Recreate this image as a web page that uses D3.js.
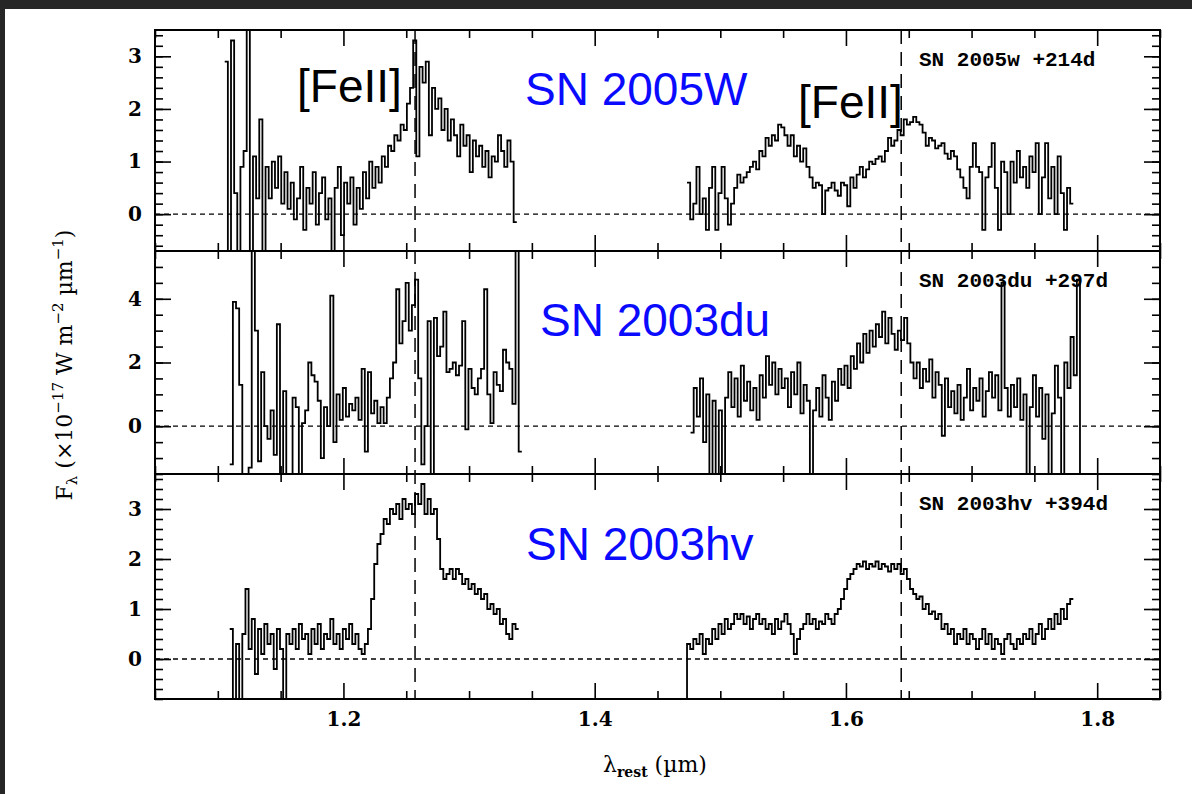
<!DOCTYPE html>
<meta charset="utf-8">
<script src="https://d3js.org/d3.v7.min.js"></script>
<style>
	body { margin: 0; background: #262626; }
	svg { display: block; }
	.tick text { font-family: "DejaVu Serif", serif; font-weight: bold; font-size: 20px; fill: #000; }
	.tick line { stroke: #000; stroke-width: 1.6px; }
	.tag { font-family: "Liberation Mono", monospace; font-weight: bold; font-size: 21px; }
	.big { font-family: "Liberation Sans", Arial, sans-serif; font-size: 46px; }
</style>
<svg width="1192" height="794"></svg>
<script>
	// bin width of the spectra (micron)
	var binWidth = 0.0025

	// SN 2005W +214d
	var sn05wStartA = 1.1055
	var sn05wA = [2.9, -1.0, 3.3, 0.4, -0.9, 0.9, 1.2, 3.6, -0.9, 1.1, 0.3, 1.8, -0.8, 0.9, 0.3, 1.0, 0.5, 1.1, 0.2, 0.8,
		0.1, 0.6, -0.1, 0.3, 0.9, -0.3, 0.5, 0.2, 0.8, -0.2, 0.4, 0.7, -0.1, 0.3, -0.8, 0.5, 0.9, -0.4, 0.6, 0.2,
		0.7, -0.2, 0.5, 0.1, 0.8, 0.3, 1.0, 0.5, 0.9, 0.6, 1.1, 0.9, 1.3, 1.2, 1.5, 1.4, 1.7, 1.6, 2.1, 2.4,
		3.3, 1.1, 2.8, 2.5, 2.9, 1.5, 2.4, 2.0, 2.2, 1.6, 2.0, 1.4, 1.8, 1.5, 1.1, 1.7, 1.3, 1.5, 0.8, 1.4,
		1.1, 1.3, 0.9, 1.2, 0.7, 1.1, 1.0, 1.5, 1.2, 0.9, 1.4, 1.0, -0.15]
	var sn05wStartB = 1.4735
	var sn05wB = [0.6, -0.1, 0.2, 0.9, 0.0, 0.3, -0.3, 0.5, 0.9, -0.3, 0.4, 0.9, 0.3, -0.2, 0.2, 0.5, 0.75, 0.6, 0.7, 0.8,
		0.9, 1.0, 0.85, 1.2, 1.1, 1.45, 1.3, 1.5, 1.4, 1.7, 1.65, 1.5, 1.3, 1.5, 1.1, 1.3, 1.0, 1.25, 0.9, 0.7,
		0.5, 0.6, 0.55, 0.0, 0.45, 0.5, 0.6, 0.45, 0.35, 0.6, 0.55, 0.15, 0.7, 0.5, 0.75, 0.9, 0.7, 0.85, 1.0, 0.95,
		1.05, 1.1, 1.0, 1.2, 1.45, 1.3, 1.4, 1.6, 1.5, 1.8, 1.7, 1.75, 1.85, 1.75, 1.7, 1.55, 1.3, 1.45, 1.4, 1.25,
		1.3, 1.35, 1.15, 1.05, 1.2, 1.1, 0.85, 0.7, 0.5, 0.3, 0.9, 1.35, 0.9, 0.8, -0.3, 0.7, 0.9, 1.35, 0.5, -0.3,
		1.0, 0.8, 0.0, 1.0, 0.6, 1.2, 0.7, 0.9, 0.5, 1.1, 0.8, 1.35, 0.0, 0.7, 1.35, 0.3, 0.9, 0.0, 1.1, 0.4,
		-0.3, 0.5, 0.2]

	// SN 2003du +297d
	var sn03duStartA = 1.1095
	var sn03duA = [-1.2, 3.9, 3.7, 1.3, -1.6, -1.6, -1.3, 5.6, 3.0, -1.1, 1.7, 0.0, -0.4, 0.5, -0.9, 3.2, -1.6, 1.1, -1.6, -1.6,
		0.9, 0.6, -1.6, 0.1, 0.5, 2.0, 1.6, 1.4, 0.8, -1.0, 0.6, 0.0, 4.1, -0.5, 1.0, 0.2, 1.2, 0.3, 0.7, 0.5,
		0.9, 0.2, 1.8, -0.8, 1.7, 0.4, 0.8, 0.1, 0.6, 0.1, 0.9, 1.5, 2.0, 4.3, 2.6, 3.3, 4.5, 3.0, 3.8, 4.6,
		1.5, -1.2, 0.0, 3.3, -1.6, 3.4, 2.2, 2.5, 3.6, 1.7, 1.8, 2.0, 1.6, 1.9, 3.3, -0.1, 1.8, 1.2, 1.0, 1.5,
		1.8, 4.3, 1.0, 0.1, 1.7, 1.3, 1.1, 2.4, 2.0, 1.8, 0.7, 5.6, -0.8]
	var sn03duStartB = 1.4763
	var sn03duB = [-0.2, 1.2, 0.3, 1.5, -0.5, 1.0, -1.6, 0.8, -1.6, 0.5, -1.6, 0.9, 1.7, 0.6, 1.5, 0.3, 1.9, 0.8, 1.4, 0.5,
		1.2, 0.2, 1.6, 0.9, 2.2, 1.3, 2.0, 1.0, 1.8, 1.2, 1.5, 0.6, 1.7, 1.0, 2.0, 0.4, 1.3, 0.8, -1.6, 0.5,
		1.2, 0.3, 1.6, 0.9, 0.2, 1.4, 0.8, 1.8, 1.3, 1.9, 1.2, 2.2, 1.8, 2.6, 2.0, 2.9, 2.3, 3.0, 2.5, 3.2,
		2.8, 3.6, 2.6, 3.4, 2.9, 2.4, 3.0, 2.7, 3.4, 2.6, 2.0, 1.5, 2.0, 1.2, 1.8, 1.4, 2.1, 0.9, 1.7, 1.3,
		-0.3, 1.5, 0.6, 1.1, 0.4, 1.3, 0.2, 0.9, 1.8, 0.5, 1.2, 0.8, 1.5, 0.3, 1.1, 1.7, 0.9, 1.6, 0.5, 4.5,
		1.2, 0.3, 1.3, 0.6, 1.5, 0.2, 1.0, -1.6, 0.6, 1.6, 0.3, 1.2, -0.4, 1.0, -1.6, 0.4, 1.9, 0.9, -1.6, 2.0,
		1.2, 2.8, 1.6, 4.6, -1.6]

	// SN 2003hv +394d
	var sn03hvStartA = 1.1095
	var sn03hvA = [0.6, -0.9, 0.3, -0.9, 0.5, 1.4, 0.2, 0.8, -0.3, 0.6, 0.1, 0.7, 0.3, 0.5, -0.2, 0.6, 0.2, -0.8, 0.5, 0.3,
		0.6, 0.2, 0.7, 0.4, 0.5, 0.1, 0.6, 0.3, 0.7, 0.2, 0.5, 0.4, 0.8, 0.3, 0.5, 0.2, 0.6, 0.4, 0.7, 0.3,
		0.5, 0.2, 0.1, 0.3, 0.6, 1.2, 1.9, 2.3, 2.5, 2.8, 2.7, 3.0, 2.9, 3.1, 2.8, 3.2, 3.0, 3.1, 2.9, 3.3,
		3.1, 3.5, 2.9, 3.2, 2.9, 3.0, 2.4, 1.8, 1.6, 1.7, 1.8, 1.6, 1.8, 1.7, 1.5, 1.6, 1.4, 1.5, 1.3, 1.4,
		1.2, 1.3, 1.0, 1.1, 0.9, 1.0, 0.7, 0.8, 0.5, 0.4, 0.7, 0.6]
	var sn03hvStartB = 1.4710
	var sn03hvB = [-0.9, 0.3, 0.2, 0.4, 0.3, 0.5, 0.1, 0.4, 0.3, 0.6, 0.4, 0.7, 0.5, 0.8, 0.6, 0.7, 0.9, 0.8, 0.9, 0.7, 0.85,
		0.6, 0.8, 0.9, 0.7, 0.8, 0.6, 0.7, 0.5, 0.8, 0.6, 0.75, 0.9, 0.7, 0.5, 0.1, 0.4, 0.6, 0.7, 0.9, 0.7,
		0.8, 0.6, 0.75, 0.7, 0.9, 0.8, 0.7, 0.9, 1.0, 1.2, 1.4, 1.6, 1.7, 1.8, 1.9, 1.85, 1.95, 1.8, 1.9, 1.85,
		1.95, 1.8, 1.9, 1.85, 1.75, 1.9, 1.8, 1.9, 1.7, 1.8, 1.6, 1.4, 1.3, 1.2, 1.25, 1.0, 1.1, 0.9, 0.95, 0.8,
		0.9, 0.6, 0.7, 0.5, 0.6, 0.3, 0.5, 0.4, 0.6, 0.3, 0.5, 0.4, 0.2, 0.4, 0.6, 0.3, 0.5, 0.2, 0.4, 0.3,
		0.1, 0.4, 0.5, 0.3, 0.2, 0.4, 0.3, 0.5, 0.4, 0.6, 0.3, 0.5, 0.7, 0.4, 0.6, 0.8, 0.6, 0.9, 0.7, 1.0,
		0.8, 1.1, 1.2]

	// [FeII] rest wavelengths
	var feLines = [1.257, 1.644]
	var xMajorTicks = [1.2, 1.4, 1.6, 1.8]
	var xTickLabels = ['1.2', '1.4', '1.6', '1.8']

	var panels = [{
		top: 30, bottom: 251, domain: [-0.7, 3.5], major: [0, 1, 2, 3], minorStep: 0.2,
		tag: 'SN 2005w +214d', name: 'SN 2005W', nameX: 525, nameY: 105,
		spectra: [[sn05wStartA, sn05wA], [sn05wStartB, sn05wB]]
	}, {
		top: 251, bottom: 474, domain: [-1.5, 5.5], major: [0, 2, 4], minorStep: 0.5,
		tag: 'SN 2003du +297d', name: 'SN 2003du', nameX: 540, nameY: 336,
		spectra: [[sn03duStartA, sn03duA], [sn03duStartB, sn03duB]]
	}, {
		top: 474, bottom: 699, domain: [-0.8, 3.7], major: [0, 1, 2, 3], minorStep: 0.2,
		tag: 'SN 2003hv +394d', name: 'SN 2003hv', nameX: 526, nameY: 560,
		spectra: [[sn03hvStartA, sn03hvA], [sn03hvStartB, sn03hvB]]
	}]

	var svg = d3.select('svg')
	svg.append('rect').attr('x', 5).attr('y', 9).attr('width', 1187).attr('height', 785).attr('fill', '#fff')

	var left = 155, right = 1160
	var x = d3.scaleLinear().domain([1.05, 1.85]).range([left, right])
	var xMinor = d3.range(1.05, 1.851, 0.05).filter(function (v) {
		return xMajorTicks.every(function (m) { return Math.abs(m - v) > 1e-6 })
	})

	var defs = svg.append('defs')

	panels.forEach(function (p, k) {
		var y = d3.scaleLinear().domain(p.domain).range([p.bottom, p.top])
		var g = svg.append('g')

		defs.append('clipPath').attr('id', 'clip' + k)
			.append('rect').attr('x', left).attr('y', p.top)
			.attr('width', right - left).attr('height', p.bottom - p.top)

		// zero level
		g.append('line')
			.attr('x1', left).attr('x2', right)
			.attr('y1', y(0)).attr('y2', y(0))
			.attr('stroke', '#000').attr('stroke-width', 1.3)
			.attr('stroke-dasharray', '5,4')

		// spectra as histograms
		var line = d3.line()
			.x(function (d) { return x(d[0]) })
			.y(function (d) { return y(d[1]) })
			.curve(d3.curveStepAfter)
		p.spectra.forEach(function (s) {
			var pts = s[1].map(function (v, i) { return [s[0] + i * binWidth, v] })
			pts.push([s[0] + s[1].length * binWidth, s[1][s[1].length - 1]])
			g.append('path')
				.attr('d', line(pts))
				.attr('fill', 'none')
				.attr('stroke', '#000')
				.attr('stroke-width', 1.8)
				.attr('clip-path', 'url(#clip' + k + ')')
		})

		// x ticks, inward on top and bottom
		g.append('g').attr('transform', 'translate(0,' + p.bottom + ')')
			.call(d3.axisTop(x).tickValues(xMinor).tickSize(8).tickFormat(''))
		g.append('g').attr('transform', 'translate(0,' + p.bottom + ')')
			.call(d3.axisTop(x).tickValues(xMajorTicks).tickSize(16).tickFormat(''))
		g.append('g').attr('transform', 'translate(0,' + p.top + ')')
			.call(d3.axisBottom(x).tickValues(xMinor).tickSize(8).tickFormat(''))
		g.append('g').attr('transform', 'translate(0,' + p.top + ')')
			.call(d3.axisBottom(x).tickValues(xMajorTicks).tickSize(16).tickFormat(''))

		// y ticks, inward on left and right
		var yMinor = d3.range(Math.ceil(p.domain[0] / p.minorStep) * p.minorStep, p.domain[1], p.minorStep)
		g.append('g').attr('transform', 'translate(' + left + ',0)')
			.call(d3.axisRight(y).tickValues(yMinor).tickSize(8).tickFormat(''))
		g.append('g').attr('transform', 'translate(' + left + ',0)')
			.call(d3.axisRight(y).tickValues(p.major).tickSize(16).tickFormat(''))
		g.append('g').attr('transform', 'translate(' + right + ',0)')
			.call(d3.axisLeft(y).tickValues(yMinor).tickSize(8).tickFormat(''))
		g.append('g').attr('transform', 'translate(' + right + ',0)')
			.call(d3.axisLeft(y).tickValues(p.major).tickSize(16).tickFormat(''))

		// y tick labels
		g.append('g').attr('transform', 'translate(' + left + ',0)')
			.call(d3.axisLeft(y).tickValues(p.major).tickSize(0).tickPadding(13).tickFormat(d3.format('d')))

		g.selectAll('.domain').remove()

		// frame
		g.append('rect')
			.attr('x', left).attr('y', p.top)
			.attr('width', right - left).attr('height', p.bottom - p.top)
			.attr('fill', 'none').attr('stroke', '#000').attr('stroke-width', 2)

		g.append('text').attr('class', 'tag')
			.attr('x', 919).attr('y', p.top + 36)
			.text(p.tag)

		g.append('text').attr('class', 'big')
			.attr('x', p.nameX).attr('y', p.nameY)
			.attr('fill', '#0a0aff')
			.text(p.name)
	})

	// x tick labels under the bottom panel
	svg.append('g').attr('transform', 'translate(0,' + panels[2].bottom + ')')
		.call(d3.axisBottom(x).tickValues(xMajorTicks).tickSize(0).tickPadding(13)
			.tickFormat(function (d, i) { return xTickLabels[i] }))
		.select('.domain').remove()

	// [FeII] lines across all panels
	svg.selectAll('.fe').data(feLines).enter().append('line')
		.attr('x1', function (d) { return x(d) }).attr('x2', function (d) { return x(d) })
		.attr('y1', panels[0].top).attr('y2', panels[2].bottom)
		.attr('stroke', '#000').attr('stroke-width', 1.5)
		.attr('stroke-dasharray', '14,8')

	svg.append('text').attr('class', 'big').attr('x', 297).attr('y', 102).text('[FeII]')
	svg.append('text').attr('class', 'big').attr('x', 798).attr('y', 118).text('[FeII]')

	// axis titles
	var xt = svg.append('text')
		.attr('x', 655).attr('y', 772)
		.attr('text-anchor', 'middle')
		.style('font-family', '"DejaVu Serif", serif').style('font-size', '22px')
	xt.append('tspan').text('λ')
	xt.append('tspan').attr('font-size', '14px').attr('dy', 5).attr('font-weight', 'bold').text('rest')
	xt.append('tspan').attr('dy', -5).text(' (µm)')

	var yt = svg.append('text')
		.attr('transform', 'translate(72,365) rotate(-90)')
		.attr('text-anchor', 'middle')
		.style('font-family', '"DejaVu Serif", serif').style('font-size', '22px')
	yt.append('tspan').text('F')
	yt.append('tspan').attr('font-size', '15px').attr('dy', 5).text('λ')
	yt.append('tspan').attr('dy', -5).text(' (×10')
	yt.append('tspan').attr('font-size', '15px').attr('dy', -9).text('−17')
	yt.append('tspan').attr('dy', 9).text(' W m')
	yt.append('tspan').attr('font-size', '15px').attr('dy', -9).text('−2')
	yt.append('tspan').attr('dy', 9).text(' µm')
	yt.append('tspan').attr('font-size', '15px').attr('dy', -9).text('−1')
	yt.append('tspan').attr('dy', 9).text(')')
</script>
